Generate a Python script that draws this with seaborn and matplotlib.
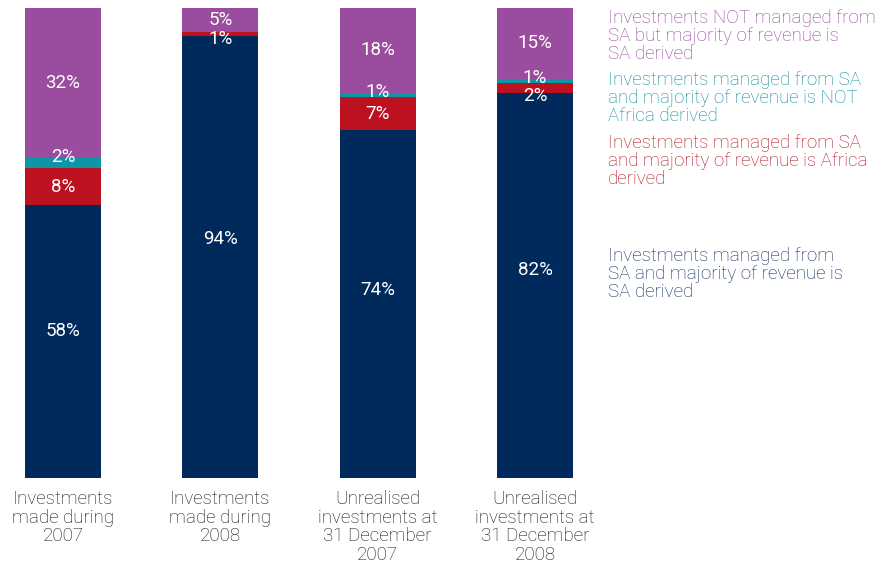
import numpy as np
import pandas as pd
import matplotlib
matplotlib.use("Agg")
import matplotlib.pyplot as plt
import seaborn as sns

# Share of investments (%) per group, bottom segment first
categories = [
    "Investments\nmade during\n2007",
    "Investments\nmade during\n2008",
    "Unrealised\ninvestments at\n31 December\n2007",
    "Unrealised\ninvestments at\n31 December\n2008",
]
sa_managed_sa_revenue = [58, 94, 74, 82]
sa_managed_africa_revenue = [8, 1, 7, 2]
sa_managed_non_africa_revenue = [2, 0, 1, 1]
not_sa_managed_sa_revenue = [32, 5, 18, 15]

series_names = [
    "Investments managed from\nSA and majority of revenue is\nSA derived",
    "Investments managed from SA\nand majority of revenue is Africa\nderived",
    "Investments managed from SA\nand majority of revenue is NOT\nAfrica derived",
    "Investments NOT managed from\nSA but majority of revenue is\nSA derived",
]
series_values = [
    sa_managed_sa_revenue,
    sa_managed_africa_revenue,
    sa_managed_non_africa_revenue,
    not_sa_managed_sa_revenue,
]

bar_colors = ["#002a5c", "#bc111f", "#0f95a8", "#9a4d9e"]
text_colors = ["#0a2a60", "#b0101c", "#0b879b", "#94409a"]

sns.set_theme(style="white")
plt.rcParams["font.family"] = ["Roboto", "DejaVu Sans"]

fig = plt.figure(figsize=(8.89, 5.64), dpi=100)
ax = fig.add_axes([25 / 889, 86 / 564, 548 / 889, 470 / 564])

values = np.array(series_values, dtype=float)
cum = np.cumsum(values, axis=0)

# Draw cumulative totals from the top layer down so each layer shows its own slice
for i in range(len(series_values) - 1, -1, -1):
    df = pd.DataFrame({"category": categories, "total": cum[i]})
    sns.barplot(data=df, x="category", y="total", order=categories,
                color=bar_colors[i], saturation=1, width=0.483,
                linewidth=0, ax=ax)

bar_w = 0.483
ax.set_xlim(-bar_w / 2, len(categories) - 1 + bar_w / 2)
ax.set_ylim(0, 100)
ax.set_xlabel("")
ax.set_ylabel("")
ax.set_yticks([])
ax.tick_params(axis="x", length=0, pad=9)
ax.set_xticks(range(len(categories)))
ax.set_xticklabels(categories, fontsize=13.5, color="#111111",
                   linespacing=1.03, fontweight="light")
for s in ax.spines.values():
    s.set_visible(False)

# Value labels inside the segments
for j in range(len(categories)):
    for i in range(len(series_values)):
        v = values[i, j]
        if v <= 0:
            continue
        bottom = cum[i, j] - v
        top = cum[i, j]
        if i == 0:
            y = bottom + 0.54 * v
        elif i == 2 and v < 3:
            y = top + 0.2
        elif i == 1 and v < 3:
            y = bottom - 0.7
        else:
            y = (bottom + top) / 2
        ax.text(j, y, f"{int(v)}%", ha="center", va="center",
                color="white", fontsize=13.5)

# Series labels on the right
legend_y = [274, 161, 98, 36]
for i in range(len(series_names)):
    fig.text(608 / 889, 1 - legend_y[i] / 564, series_names[i],
             ha="left", va="center", fontsize=13.5, color=text_colors[i],
             linespacing=1.0, fontweight="light")

fig.savefig("out.png", dpi=100)
